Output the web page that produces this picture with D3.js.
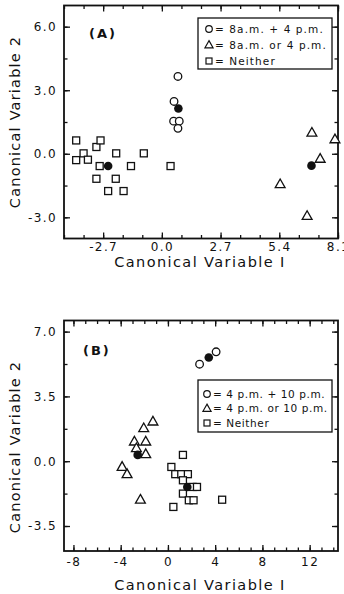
<!DOCTYPE html>
<html>
<head>
<meta charset="utf-8">
<script src="https://cdn.jsdelivr.net/npm/d3@7"></script>
<style>
  body { margin: 0; background: #fff; }
  svg { display: block; }
  text { font-family: "DejaVu Sans", sans-serif; fill: #111; }
  .tick text { font-size: 12px; letter-spacing: 1.4px; }
  .tick line { stroke: #111; stroke-width: 1.3; }
</style>
</head>
<body>
<script>
// panel A: 8 a.m. / 4 p.m.
const aBoth = [[0.74, 3.65], [0.56, 2.47], [0.54, 1.54], [0.80, 1.54], [0.74, 1.20]];
const aEither = [[6.90, 0.99], [7.96, 0.68], [7.28, -0.24], [5.44, -1.44], [6.68, -2.94]];
const aNeither = [[-3.94, 0.63], [-3.94, -0.30], [-3.60, 0.02], [-3.40, -0.28], [-3.01, 0.32],
  [-2.82, 0.63], [-2.86, -0.58], [-3.01, -1.18], [-2.47, -1.76], [-2.10, 0.02], [-2.12, -1.18],
  [-1.76, -1.76], [-1.42, -0.58], [-0.83, 0.02], [0.40, -0.58]];
const aMeans = [[0.76, 2.14], [6.88, -0.56], [-2.47, -0.58]];
const aXTicks = [-2.7, 0, 2.7, 5.4, 8.1];
const aYTicks = [-3, 0, 3, 6];
const aLegend = ["= 8a.m. + 4 p.m.", "= 8a.m. or 4 p.m.", "= Neither"];

// panel B: 4 p.m. / 10 p.m.
const bBoth = [[2.68, 5.24], [4.08, 5.91]];
const bEither = [[-1.27, 2.14], [-2.05, 1.78], [-2.84, 1.06], [-1.88, 1.06], [-2.67, 0.70],
  [-1.88, 0.38], [-3.88, -0.31], [-3.46, -0.70], [-2.33, -2.08]];
const bNeither = [[1.27, 0.34], [0.29, -0.31], [0.62, -0.70], [1.13, -0.70], [1.69, -0.70],
  [1.27, -1.03], [2.09, -1.39], [2.46, -1.39], [1.27, -1.75], [1.77, -2.11], [2.17, -2.11],
  [4.59, -2.08], [0.46, -2.47]];
const bMeans = [[3.46, 5.60], [-2.56, 0.34], [1.64, -1.39]];
const bXTicks = [-8, -4, 0, 4, 8, 12];
const bYTicks = [-3.5, 0, 3.5, 7];
const bLegend = ["= 4 p.m. + 10 p.m.", "= 4 p.m. or 10 p.m.", "= Neither"];

const svg = d3.select("body").append("svg")
    .attr("width", 344)
    .attr("height", 594);

const left = 64, right = 338;

const tri = (s) => "M0," + (-s * 0.62) + "L" + (s * 0.58) + "," + (s * 0.4) + "L" + (-s * 0.58) + "," + (s * 0.4) + "Z";

function drawPanel(p) {
    const x = d3.scaleLinear().domain(p.xDomain).range([left, right]);
    const y = d3.scaleLinear().domain(p.yDomain).range([p.bottom, p.top]);
    const g = svg.append("g");

    // ticks on all four sides, pointing in
    const addAxis = (axis, tx, ty) => {
        const a = g.append("g").attr("transform", "translate(" + tx + "," + ty + ")").call(axis);
        a.select(".domain").remove();
        return a;
    };
    addAxis(d3.axisBottom(x).tickValues(p.xMinor).tickSize(-3.5).tickFormat(""), 0, p.bottom);
    addAxis(d3.axisTop(x).tickValues(p.xMinor).tickSize(-3.5).tickFormat(""), 0, p.top);
    addAxis(d3.axisLeft(y).tickValues(p.yMinor).tickSize(-3.5).tickFormat(""), left, 0);
    addAxis(d3.axisRight(y).tickValues(p.yMinor).tickSize(-3.5).tickFormat(""), right, 0);

    addAxis(d3.axisBottom(x).tickValues(p.xTicks).tickSize(-6).tickPadding(p.xPad).tickFormat(p.fmtX), 0, p.bottom);
    addAxis(d3.axisTop(x).tickValues(p.xTicks).tickSize(-6).tickFormat(""), 0, p.top);
    addAxis(d3.axisLeft(y).tickValues(p.yTicks).tickSize(-6).tickPadding(7).tickFormat(p.fmtY), left, 0);
    addAxis(d3.axisRight(y).tickValues(p.yTicks).tickSize(-6).tickFormat(""), right, 0);

    g.append("rect")
        .attr("x", left).attr("y", p.top)
        .attr("width", right - left).attr("height", p.bottom - p.top)
        .attr("fill", "none").attr("stroke", "#111").attr("stroke-width", 1.8);

    // points
    g.selectAll(".sq").data(p.neither).enter().append("rect")
        .attr("x", d => x(d[0]) - 3.5).attr("y", d => y(d[1]) - 3.5)
        .attr("width", 7).attr("height", 7)
        .attr("fill", "#fff").attr("stroke", "#111").attr("stroke-width", 1.3);
    g.selectAll(".tr").data(p.either).enter().append("path")
        .attr("d", tri(8.5))
        .attr("transform", d => "translate(" + x(d[0]) + "," + y(d[1]) + ")")
        .attr("fill", "#fff").attr("stroke", "#111").attr("stroke-width", 1.3);
    g.selectAll(".ci").data(p.both).enter().append("circle")
        .attr("cx", d => x(d[0])).attr("cy", d => y(d[1])).attr("r", 3.8)
        .attr("fill", "#fff").attr("stroke", "#111").attr("stroke-width", 1.3);
    g.selectAll(".mn").data(p.means).enter().append("circle")
        .attr("cx", d => x(d[0])).attr("cy", d => y(d[1])).attr("r", 4.3)
        .attr("fill", "#111");

    g.append("text")
        .attr("x", p.labelPos[0]).attr("y", p.labelPos[1])
        .style("font-size", "13px").style("font-weight", "bold").style("letter-spacing", "2px")
        .text(p.label);

    // legend
    const lg = g.append("g").attr("transform", "translate(" + p.legendBox[0] + "," + p.legendBox[1] + ")");
    lg.append("rect")
        .attr("width", p.legendBox[2]).attr("height", p.legendBox[3])
        .attr("fill", "#fff").attr("stroke", "#111").attr("stroke-width", 1.3);
    p.legend.forEach((t, i) => {
        const cy = p.legendRow0 + i * p.legendStep;
        const sx = p.legendSym;
        if (i === 0) {
            lg.append("circle").attr("cx", sx).attr("cy", cy).attr("r", 3.3)
                .attr("fill", "none").attr("stroke", "#111").attr("stroke-width", 1.2);
        } else if (i === 1) {
            lg.append("path").attr("d", tri(7)).attr("transform", "translate(" + sx + "," + cy + ")")
                .attr("fill", "none").attr("stroke", "#111").attr("stroke-width", 1.2);
        } else {
            lg.append("rect").attr("x", sx - 3).attr("y", cy - 3).attr("width", 6).attr("height", 6)
                .attr("fill", "none").attr("stroke", "#111").attr("stroke-width", 1.2);
        }
        lg.append("text").attr("x", p.legendText).attr("y", cy).attr("dy", "0.36em")
            .style("font-size", "10.5px").style("letter-spacing", p.legendLs + "px")
            .text(t);
    });

    // axis titles
    g.append("text")
        .attr("x", (left + right) / 2 - 1).attr("y", p.xTitleY)
        .attr("text-anchor", "middle")
        .style("font-size", "14.5px").style("letter-spacing", "1.4px")
        .text("Canonical Variable I");
    g.append("text")
        .attr("transform", "translate(20," + p.yTitleY + ") rotate(-90)")
        .attr("text-anchor", "middle")
        .style("font-size", "14.5px").style("letter-spacing", "1.2px")
        .text("Canonical Variable 2");
}

drawPanel({
    top: 5.5, bottom: 238.5,
    xDomain: [-4.5, 8.1], yDomain: [-4, 7],
    xTicks: aXTicks, yTicks: aYTicks, xPad: 3.5,
    xMinor: d3.range(-45, 82, 9).map(v => v / 10),
    yMinor: d3.range(-4.5, 7, 1.5).filter(v => v > -4),
    fmtX: d => d.toFixed(1), fmtY: d => d.toFixed(1),
    both: aBoth, either: aEither, neither: aNeither, means: aMeans,
    label: "(A)", labelPos: [89, 38],
    legend: aLegend, legendBox: [198, 18, 134, 51], legendRow0: 11, legendStep: 16,
    legendSym: 11, legendText: 17, legendLs: 1.1,
    xTitleY: 266.5, yTitleY: 122
});

drawPanel({
    top: 320.5, bottom: 551,
    xDomain: [-8.8, 14.4], yDomain: [-4.85, 7.6],
    xTicks: bXTicks, yTicks: bYTicks, xPad: 6,
    xMinor: d3.range(-8, 15, 1),
    yMinor: d3.range(-3.5, 7.6, 1.75),
    fmtX: d => String(d), fmtY: d => d.toFixed(1),
    both: bBoth, either: bEither, neither: bNeither, means: bMeans,
    label: "(B)", labelPos: [83, 355],
    legend: bLegend, legendBox: [198, 380, 134, 52], legendRow0: 14, legendStep: 14.5,
    legendSym: 9, legendText: 15, legendLs: 0.6,
    xTitleY: 590, yTitleY: 447
});
</script>
</body>
</html>
